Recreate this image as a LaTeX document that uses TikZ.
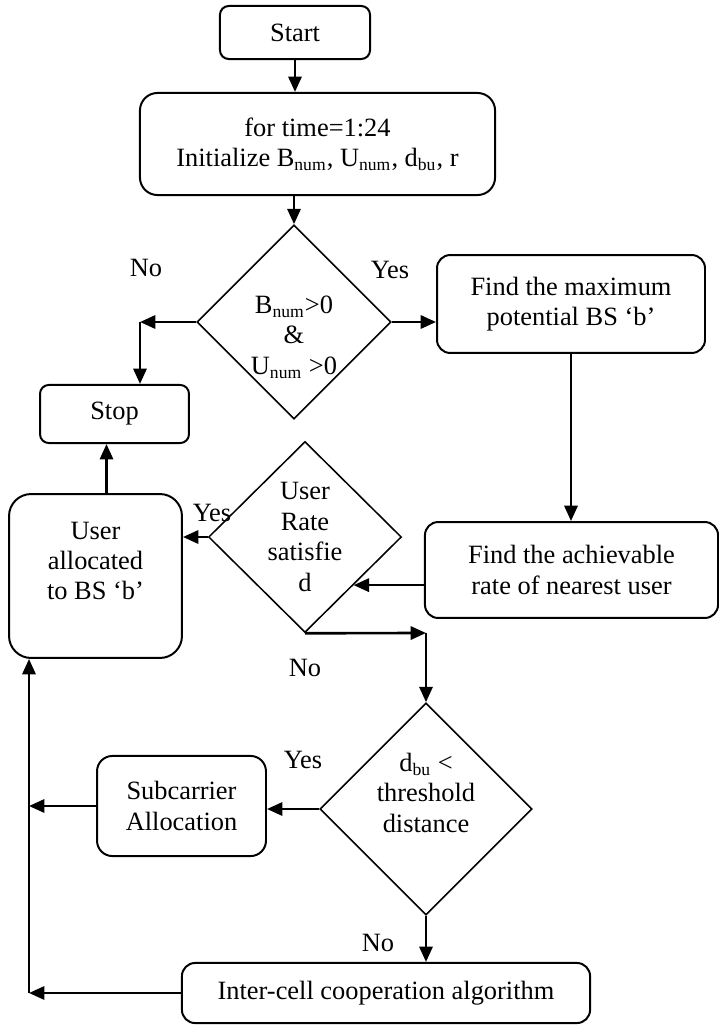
\documentclass[tikz,border=0pt]{standalone}
\usepackage{fontspec}
\setmainfont{Liberation Serif}
\usetikzlibrary{shapes.geometric, arrows.meta}

\begin{document}
\begin{tikzpicture}
	[x=0.4545pt, y=-0.4545pt,
	every node/.style={font=\fontsize{12}{13.8}\selectfont, align=center},
	block/.style={draw, line width=0.9pt, rounded corners=6pt, inner sep=0pt},
	decision/.style={draw, line width=0.7pt, diamond, aspect=1, inner sep=0pt},
	flow/.style={-{Triangle[length=7pt, width=6pt]}, line width=1.2pt}]
	
	\useasboundingbox (0, 0) rectangle (719, 1025);
	
	% Draw boxes
	\node[block, rounded corners=4pt, minimum width=68.2pt, minimum height=24.1pt] (start) at (295, 32.5) {Start};
	\node[block, rounded corners=8pt, minimum width=161.4pt, minimum height=46.4pt] (init) at (317.5, 144)
		{for time=1:24\\Initialize B\textsubscript{num}, U\textsubscript{num}, d\textsubscript{bu}, r};
	\node[block, minimum width=121.8pt, minimum height=44.5pt] (findmax) at (571, 304)
		{Find the maximum\\potential BS `b'};
	\node[block, minimum width=133.2pt, minimum height=43.6pt] (achieve) at (571.5, 570)
		{Find the achievable\\rate of nearest user};
	\node[block, rounded corners=4pt, minimum width=67.7pt, minimum height=26.4pt] (stop) at (114.5, 414) {Stop};
	\node[block, rounded corners=10pt, minimum width=78.6pt, minimum height=74.5pt] (alloc) at (95.5, 576)
		{User\\allocated\\to BS `b'\\~};
	\node[block, rounded corners=7pt, minimum width=76.8pt, minimum height=45.5pt] (subc) at (181.5, 806)
		{Subcarrier\\Allocation};
	\node[block, minimum width=185.5pt, minimum height=27.3pt] (inter) at (386, 993)
		{Inter-cell cooperation algorithm};
	
	% Draw decisions
	\node[decision, minimum size=88.2pt,
		label={[yshift=-6.8pt]center:{B\textsubscript{num}>0\\\&\\U\textsubscript{num} >0}}] (cond1) at (294, 322) {};
	\node[decision, minimum width=87.7pt, minimum height=86.8pt] (cond2) at (305, 537)
		{User\\Rate\\satisfie\\d};
	\node[decision, minimum size=96.4pt,
		label={[yshift=7.3pt]center:{d\textsubscript{bu} <\\threshold\\distance}}] (cond3) at (426, 809) {};
	
	% Draw branch labels
	\node (no1) at (146, 268) {No};
	\node (yes1) at (390, 270) {Yes};
	\node (yes2) at (212, 513) {Yes};
	\node (no2) at (305, 668) {No};
	\node (yes3) at (303, 760) {Yes};
	\node (no3) at (378, 943) {No};
	
	% Turning points
	\coordinate (turn1) at (140, 322);
	\coordinate (turn2) at (426, 633);
	\coordinate (ret) at (29, 993);
	
	% Draw connectors
	\draw[flow] (start.south) -- (start.south |- init.north);
	\draw[flow] (cond1.north |- init.south) -- (cond1.north);
	\draw[flow] (cond1.east) -- (cond1.east -| findmax.west);
	\draw[flow] (cond1.west) -- (turn1);
	\draw[flow] (turn1) -- (turn1 |- stop.north);
	\draw[flow] (findmax.south) -- (findmax.south |- achieve.north);
	\draw[flow] (cond2.south east -| achieve.west) -- (cond2.south east);
	\draw[flow] (cond2.west) -- (cond2.west -| alloc.east);
	\draw[flow] ([xshift=5pt]alloc.north) -- ([xshift=5pt]alloc.north |- stop.south);
	\draw[flow] (cond2.south) -- (turn2);
	\draw[flow] (turn2) -- (cond3.north);
	\draw[flow] (cond3.west) -- (cond3.west -| subc.east);
	\draw[flow] (subc.west) -- (subc.west -| ret);
	\draw[flow] (cond3.south) -- (cond3.south |- inter.north);
	\draw[flow] (inter.west) -- (ret);
	\draw[flow] (ret) -- (ret |- alloc.south);
	
\end{tikzpicture}
\end{document}
